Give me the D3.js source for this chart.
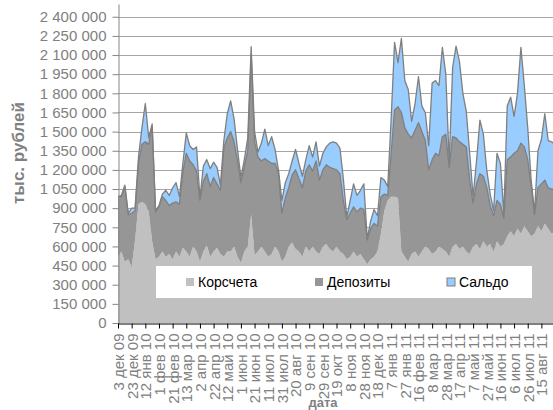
<!DOCTYPE html>
<html>
<head>
<meta charset="utf-8">
<script src="https://cdn.jsdelivr.net/npm/d3@7"></script>
<style>
	body { margin: 0; background: #fff; }
	svg { display: block; font-family: Arial, 'Liberation Sans', sans-serif; }
</style>
</head>
<body>
<svg id="chart" width="553" height="410"></svg>
<script>
// values, in thousands of axis units (axis is in тыс. рублей)
const korscheta = [
	520, 560, 480, 500, 440, 650, 930, 950, 930, 870,
	640, 500, 520, 560, 520, 540, 500, 560, 520, 590,
	560, 520, 600, 560, 480, 560, 610, 520, 560, 590,
	540, 520, 560, 560, 600, 520, 470, 560, 600, 850,
	530, 560, 600, 560, 520, 540, 600, 560, 480, 520,
	600, 630, 580, 560, 520, 600, 560, 600, 560, 540,
	600, 620, 580, 560, 600, 560, 540, 500, 520, 560,
	520, 540, 500, 460, 500, 520, 560, 700, 880, 960,
	990, 990, 980, 560, 520, 480, 540, 560, 520, 560,
	600, 580, 540, 560, 600, 580, 560, 520, 600, 620,
	580, 600, 560, 540, 600, 620, 580, 640, 600, 620,
	560, 640, 600, 620, 680, 720, 680, 740, 700, 760,
	720, 680, 700, 760, 720, 780, 740, 700, 720
]
const depozity = [
	470, 430, 590, 350, 420, 230, 320, 450, 490, 530,
	900, 370, 390, 430, 440, 380, 440, 390, 410, 590,
	770, 750, 640, 630, 480, 550, 560, 550, 580, 500,
	500, 850, 890, 940, 820, 750, 630, 670, 750, 1250,
	890, 740, 670, 730, 750, 710, 650, 610, 380, 460,
	460, 530, 620, 570, 540, 590, 680, 590, 710, 580,
	600, 620, 640, 650, 600, 610, 420, 310, 340, 350,
	350, 360, 390, 190, 240, 260, 200, 290, 130, 40,
	340, 680, 715, 1090, 1010, 1000, 910, 950, 1050, 940,
	830, 620, 740, 770, 710, 880, 920, 700, 860, 830,
	840, 800, 820, 580, 340, 470, 590, 510, 460, 300,
	280, 320, 330, 200, 600, 580, 650, 610, 710, 620,
	560, 390, 150, 300, 370, 340, 320, 350, 320
]
const saldo = [
	0, 10, 10, 10, 40, 20, 50, 130, 300, 50,
	20, 10, 10, 20, 80, 80, 120, 150, 60, 70,
	160, 120, 120, 190, 20, 120, 110, 140, 120, 130,
	40, 60, 190, 240, 180, 90, 40, 50, 100, 65,
	80, 40, 140, 230, 120, 210, 110, 30, 100, 120,
	110, 110, 160, 120, 90, 90, 150, 110, 150, 110,
	130, 140, 190, 210, 210, 200, 170, 20, 100, 180,
	130, 140, 200, 10, 60, 110, 80, 150, 110, 70,
	270, 530, 345, 580, 370, 350, 130, 210, 360, 200,
	220, 190, 600, 570, 550, 700, 470, 40, 540, 720,
	630, 400, 280, 210, 50, 180, 420, 330, 140, 90,
	40, 370, 320, 40, 420, 470, 290, 450, 750, 480,
	250, 50, 20, 290, 350, 520, 370, 370, 360
]
const tickLabels = [
	'3 дек 09', '23 дек 09', '12 янв 10', '1 фев 10', '21 фев 10', '13 мар 10',
	'2 апр 10', '22 апр 10', '12 май 10', '1 июн 10', '21 июн 10', '11 июл 10',
	'31 июл 10', '20 авг 10', '9 сен 10', '29 сен 10', '19 окт 10', '8 ноя 10',
	'28 ноя 10', '18 дек 10', '7 янв 11', '27 янв 11', '16 фев 11', '8 мар 11',
	'28 мар 11', '17 апр 11', '7 май 11', '27 май 11', '16 июн 11', '6 июл 11',
	'26 июл 11', '15 авг 11'
]
const seriesNames = ['Корсчета', 'Депозиты', 'Сальдо']
const seriesColors = ['#c0c0c0', '#969696', '#99ccff']

const startDate = new Date(2009, 11, 3)
const stepDays = 5 // one reading every 5 days
const tickStepDays = 20
const endDays = 637

const plotLeft = 118
const plotRight = 553
const plotTop = 4
const plotBottom = 323

const svg = d3.select('#chart')

const x = d3
	.scaleTime()
	.domain([startDate, d3.timeDay.offset(startDate, endDays)])
	.range([plotLeft, plotRight])
const y = d3.scaleLinear().domain([0, 2500000]).range([plotBottom, plotTop])

const ru = d3.formatLocale({ decimal: ',', thousands: ' ', grouping: [3], currency: ['', ''] })
const fmt = ru.format(',d')

const rows = korscheta.map((k, i) => ({
	date: d3.timeDay.offset(startDate, i * stepDays),
	k: k * 1000,
	d: depozity[i] * 1000,
	s: saldo[i] * 1000
}))
const stacked = d3.stack().keys(['k', 'd', 's'])(rows)

svg.append('clipPath')
	.attr('id', 'plot')
	.append('rect')
	.attr('x', plotLeft)
	.attr('y', 0)
	.attr('width', plotRight - plotLeft)
	.attr('height', plotBottom)

// gridlines
const yTicks = d3.range(0, 2400001, 150000)
svg.append('g')
	.selectAll('line')
	.data(yTicks.filter(d => d > 0))
	.enter()
	.append('line')
	.attr('x1', plotLeft)
	.attr('x2', plotRight)
	.attr('y1', d => Math.round(y(d)) + 0.5)
	.attr('y2', d => Math.round(y(d)) + 0.5)
	.attr('stroke', '#a6a6a6')
	.attr('stroke-width', 1)

const area = d3
	.area()
	.x(d => x(d.data.date))
	.y0(d => y(d[0]))
	.y1(d => y(d[1]))
const topLine = d3
	.line()
	.x(d => x(d.data.date))
	.y(d => y(d[1]))

const plot = svg.append('g').attr('clip-path', 'url(#plot)')
plot.selectAll('path.area')
	.data(stacked)
	.enter()
	.append('path')
	.attr('class', 'area')
	.attr('d', area)
	.attr('fill', (d, i) => seriesColors[i])

plot.selectAll('path.edge')
	.data(stacked.slice(1))
	.enter()
	.append('path')
	.attr('class', 'edge')
	.attr('d', topLine)
	.attr('fill', 'none')
	.attr('stroke', '#7f7f7f')
	.attr('stroke-width', 1.3)
	.attr('stroke-linejoin', 'round')

// y axis
const yAxis = svg.append('g')
	.attr('transform', `translate(${plotLeft + 0.5},0)`)
	.call(d3.axisLeft(y).tickValues(yTicks).tickSize(6).tickSizeOuter(0).tickPadding(6).tickFormat(fmt))
yAxis.select('.domain').attr('stroke', '#868686')
yAxis.selectAll('.tick line').attr('stroke', '#868686')
yAxis.selectAll('.tick text')
	.attr('fill', '#808080')
	.style('font-size', '15px')
	.style('font-family', 'Arial, "Liberation Sans", sans-serif')

// x axis
const tickDates = tickLabels.map((t, i) => d3.timeDay.offset(startDate, i * tickStepDays))
const xAxis = svg.append('g')
	.attr('transform', `translate(0,${plotBottom + 0.5})`)
	.call(d3.axisBottom(x).tickValues(tickDates).tickSize(5).tickSizeOuter(0).tickFormat((d, i) => tickLabels[i]))
xAxis.select('.domain').attr('stroke', '#000')
xAxis.selectAll('.tick line').attr('stroke', '#000')
xAxis.selectAll('.tick text')
	.attr('transform', 'rotate(-90)')
	.attr('text-anchor', 'end')
	.attr('x', -10)
	.attr('y', 0)
	.attr('dy', '0.36em')
	.attr('fill', '#808080')
	.style('font-size', '15px')
	.style('font-family', 'Arial, "Liberation Sans", sans-serif')

// axis titles
svg.append('text')
	.attr('transform', 'translate(24,153) rotate(-90)')
	.attr('text-anchor', 'middle')
	.attr('fill', '#808080')
	.style('font-size', '17px')
	.style('font-weight', 'bold')
	.text('тыс. рублей')

svg.append('text')
	.attr('x', 323)
	.attr('y', 407)
	.attr('text-anchor', 'middle')
	.attr('fill', '#808080')
	.style('font-size', '13px')
	.style('font-weight', 'bold')
	.text('дата')

// legend
const legend = svg.append('g')
legend.append('rect')
	.attr('x', 156)
	.attr('y', 266)
	.attr('width', 376)
	.attr('height', 32)
	.attr('fill', '#fff')

const legendX = [186, 315, 447]
const items = legend.selectAll('g.item')
	.data(seriesNames)
	.enter()
	.append('g')
	.attr('class', 'item')
	.attr('transform', (d, i) => `translate(${legendX[i]},278)`)
items.append('rect')
	.attr('width', 8)
	.attr('height', 8)
	.attr('fill', (d, i) => seriesColors[i])
	.attr('stroke', (d, i) => (i === 2 ? '#7f7f7f' : 'none'))
items.append('text')
	.attr('x', 12)
	.attr('y', 9)
	.attr('fill', '#000')
	.style('font-size', '14px')
	.text(d => d)
</script>
</body>
</html>
